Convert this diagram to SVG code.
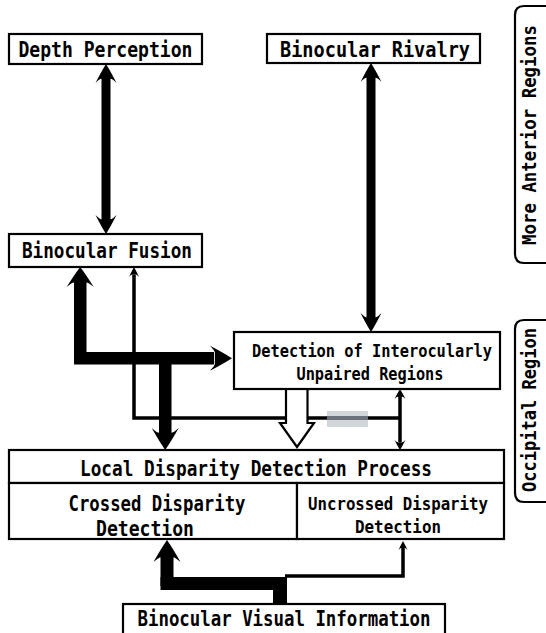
<svg xmlns="http://www.w3.org/2000/svg" xmlns:xlink="http://www.w3.org/1999/xlink" width="546" height="633" viewBox="0 0 546 633">
<style>
.box{fill:#fff;stroke:#000;stroke-width:2.2}
.t{font-family:"DejaVu Sans Mono","Liberation Mono",monospace;font-weight:bold;fill:#000;text-anchor:middle}
.b{font-size:21px}
.s{font-size:18.5px}
.r{font-size:20px}
.thin{fill:none;stroke:#000;stroke-width:3.5}
.brk{fill:none;stroke:#000;stroke-width:2.2}
</style>
<defs>
<path id="head" d="M0,0 Q0.45,0.4 1,1 Q0.6,0.78 0.45,0.78 L-0.45,0.78 Q-0.6,0.78 -1,1 Q-0.45,0.4 0,0Z"/>
</defs>
<rect width="546" height="633" fill="#fff"/>
<g id="connectors">
<rect x="101.5" y="78" width="9" height="142"/>
<use xlink:href="#head" transform="translate(106,64) scale(10.5,19)"/>
<use xlink:href="#head" transform="translate(106,234) scale(10.5,-19)"/>
<rect x="366.5" y="77" width="9" height="241"/>
<use xlink:href="#head" transform="translate(371,63) scale(10.5,19)"/>
<use xlink:href="#head" transform="translate(371,332) scale(10.5,-19)"/>
<rect x="74" y="282" width="12.5" height="82"/>
<rect x="74" y="352" width="140" height="12.5"/>
<use xlink:href="#head" transform="translate(232,358.2) rotate(90) scale(12.5,22)"/>
<use xlink:href="#head" transform="translate(80.2,267) scale(13.5,20)"/>
<path class="thin" d="M134,275 V418 H400"/>
<use xlink:href="#head" transform="translate(134,267) scale(5,10)"/>
<rect x="327" y="411" width="41" height="16" fill="#d2d5da"/>
<rect x="327" y="416" width="41" height="4" fill="#6c727c"/>
<path class="thin" d="M400,396 V442"/>
<use xlink:href="#head" transform="translate(400,389) scale(5.5,10)"/>
<use xlink:href="#head" transform="translate(400,450) scale(5.5,-10)"/>
<rect x="159" y="352" width="12.5" height="82"/>
<use xlink:href="#head" transform="translate(165.2,450) scale(13.5,-22)"/>
<path d="M286,388 V423 H280 L297,447 L314,423 H307.5 V388" fill="#fff" stroke="#000" stroke-width="2.2" stroke-linejoin="miter"/>
<rect x="273" y="577" width="14" height="28"/>
<rect x="160.5" y="577" width="126.5" height="13"/>
<rect x="160.5" y="556" width="13" height="30"/>
<use xlink:href="#head" transform="translate(167,540) scale(13.5,22)"/>
<path class="thin" d="M285,576 H403 V548"/>
<use xlink:href="#head" transform="translate(403,541) scale(4.5,9)"/>
</g>
<g id="depth-perception">
<rect class="box" x="9" y="34" width="193" height="30"/>
<text class="t b" x="105.5" y="57" textLength="174" lengthAdjust="spacingAndGlyphs">Depth Perception</text>
</g>
<g id="binocular-rivalry">
<rect class="box" x="267" y="34" width="213" height="29"/>
<text class="t b" x="375" y="57" textLength="190" lengthAdjust="spacingAndGlyphs">Binocular Rivalry</text>
</g>
<g id="binocular-fusion">
<rect class="box" x="9" y="234" width="193" height="33"/>
<text class="t b" x="107" y="258" textLength="170" lengthAdjust="spacingAndGlyphs">Binocular Fusion</text>
</g>
<g id="interocular">
<rect class="box" x="234" y="332" width="266" height="57"/>
<text class="t s" x="372" y="357" textLength="240" lengthAdjust="spacingAndGlyphs">Detection of Interocularly</text>
<text class="t s" x="370" y="380" textLength="147" lengthAdjust="spacingAndGlyphs">Unpaired Regions</text>
</g>
<g id="local-disparity">
<rect class="box" x="9" y="450" width="495" height="33"/>
<text class="t b" x="256" y="476" textLength="352" lengthAdjust="spacingAndGlyphs">Local Disparity Detection Process</text>
</g>
<g id="crossed">
<rect class="box" x="9" y="483" width="288" height="56"/>
<text class="t b" x="157" y="511" textLength="177" lengthAdjust="spacingAndGlyphs">Crossed Disparity</text>
<text class="t b" x="145" y="536" textLength="98" lengthAdjust="spacingAndGlyphs">Detection</text>
</g>
<g id="uncrossed">
<rect class="box" x="297" y="483" width="207" height="56"/>
<text class="t s" x="398" y="510" textLength="180" lengthAdjust="spacingAndGlyphs">Uncrossed Disparity</text>
<text class="t s" x="398" y="533" textLength="86" lengthAdjust="spacingAndGlyphs">Detection</text>
</g>
<g id="binocular-visual">
<rect class="box" x="123" y="604" width="322" height="40"/>
<text class="t b" x="284" y="626" textLength="293" lengthAdjust="spacingAndGlyphs">Binocular Visual Information</text>
</g>
<g id="anterior-label">
<path class="brk" d="M546,6 H524 Q515,6 515,15 V254 Q515,263 524,263 H546"/>
<text class="t r" transform="translate(536,135) rotate(-90)" textLength="220" lengthAdjust="spacingAndGlyphs">More Anterior Regions</text>
</g>
<g id="occipital-label">
<path class="brk" d="M546,320 H524 Q515,320 515,329 V493 Q515,502 524,502 H546"/>
<text class="t r" transform="translate(536,410) rotate(-90)" textLength="164" lengthAdjust="spacingAndGlyphs">Occipital Region</text>
</g>
</svg>
